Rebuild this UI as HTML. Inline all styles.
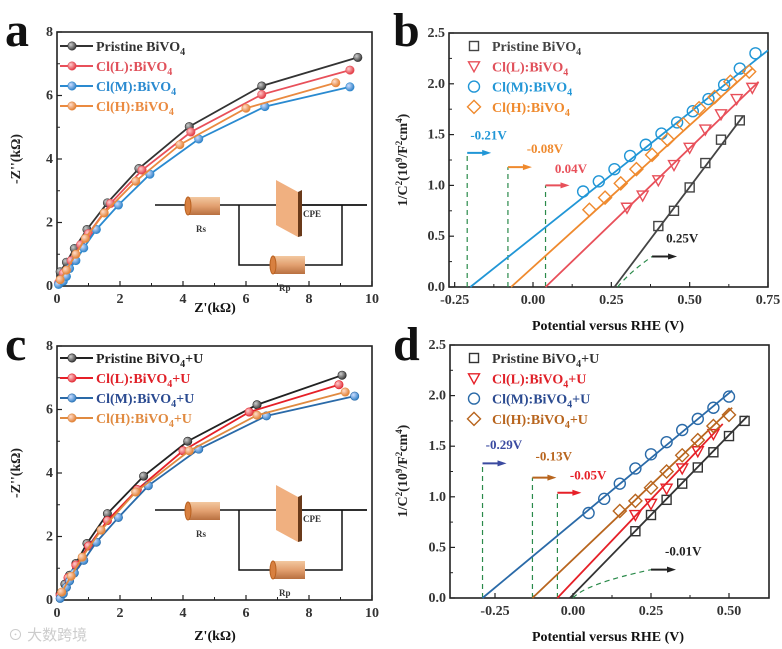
<!DOCTYPE html>
<html><head><meta charset="utf-8"><style>
body{margin:0;background:#fff}
svg{display:block;font-family:"Liberation Serif",serif;font-weight:bold}
</style></head><body>
<svg id="fig" width="782" height="649" viewBox="0 0 782 649">
<defs>
<radialGradient id="gk" cx="35%" cy="35%" r="70%"><stop offset="0" stop-color="#ccc"/><stop offset="1" stop-color="#333"/></radialGradient>
<radialGradient id="gr" cx="35%" cy="35%" r="70%"><stop offset="0" stop-color="#fcc"/><stop offset="1" stop-color="#e0303a"/></radialGradient>
<radialGradient id="gb" cx="35%" cy="35%" r="70%"><stop offset="0" stop-color="#cdf"/><stop offset="1" stop-color="#2a7cc4"/></radialGradient>
<radialGradient id="go" cx="35%" cy="35%" r="70%"><stop offset="0" stop-color="#fdc"/><stop offset="1" stop-color="#e07a2a"/></radialGradient>
<linearGradient id="cyl" x1="0" y1="0" x2="0" y2="1"><stop offset="0" stop-color="#f3c8a0"/><stop offset="0.5" stop-color="#e2a070"/><stop offset="1" stop-color="#b87040"/></linearGradient>
</defs>
</svg>
<script>
// ---- Panel a data (Nyquist) ----
const aPristX=[0.1,0.3,0.55,0.95,1.6,2.6,4.2,6.5,9.55];
const aPristY=[0.45,0.75,1.18,1.78,2.62,3.7,5.02,6.3,7.2];
const aLX=[0.05,0.2,0.45,0.75,1.0,1.7,2.7,4.25,6.5,9.3];
const aLY=[0.1,0.4,0.8,1.3,1.65,2.6,3.65,4.85,6.03,6.8];
const aMX=[0.05,0.2,0.3,0.4,0.6,0.85,1.25,1.95,2.95,4.5,6.6,9.3];
const aMY=[0.05,0.15,0.3,0.55,0.8,1.2,1.78,2.55,3.52,4.63,5.65,6.27];
const aHX=[0.1,0.3,0.6,0.9,1.5,2.5,3.9,6.0,8.85];
const aHY=[0.2,0.5,1.0,1.5,2.3,3.3,4.45,5.6,6.4];
// ---- Panel c data ----
const cPristX=[0.1,0.25,0.4,0.6,0.95,1.6,2.75,4.15,6.35,9.05];
const cPristY=[0.2,0.5,0.78,1.15,1.78,2.72,3.9,5.0,6.15,7.08];
const cLX=[0.1,0.35,0.6,1.0,1.6,2.55,4.0,6.1,8.95];
const cLY=[0.15,0.7,1.1,1.7,2.5,3.48,4.7,5.92,6.78];
const cMX=[0.1,0.2,0.3,0.4,0.55,0.85,1.25,1.95,2.9,4.5,6.65,9.45];
const cMY=[0.05,0.2,0.4,0.6,0.85,1.25,1.82,2.6,3.6,4.75,5.8,6.42];
const cHX=[0.15,0.45,0.8,1.4,2.5,4.2,6.35,9.15];
const cHY=[0.25,0.75,1.35,2.2,3.4,4.7,5.82,6.55];
const nyqXTicks=[0,2,4,6,8,10];
const nyqYTicks=[0,2,4,6,8];
// ---- Panel b data (Mott-Schottky) ----
const bPristX=[0.40,0.45,0.50,0.55,0.60,0.66];
const bPristY=[0.60,0.75,0.98,1.22,1.45,1.64];
const bLX=[0.30,0.35,0.40,0.45,0.50,0.55,0.60,0.65,0.70];
const bLY=[0.78,0.90,1.05,1.20,1.37,1.55,1.70,1.85,1.96];
const bMX=[0.16,0.21,0.26,0.31,0.36,0.41,0.46,0.51,0.56,0.61,0.66,0.71];
const bMY=[0.94,1.04,1.16,1.29,1.40,1.51,1.62,1.73,1.85,1.99,2.15,2.30];
const bHX=[0.18,0.23,0.28,0.33,0.38,0.43,0.48,0.53,0.58,0.63,0.69];
const bHY=[0.76,0.88,1.02,1.16,1.30,1.45,1.60,1.76,1.87,2.02,2.12];
const bFitStart=[0.26,0.04,-0.20,-0.07];
const bFitEndX=[0.67,0.72,0.75,0.70];
const bFitEndY=[1.68,2.02,2.33,2.15];
const bXTicks=[-0.25,0,0.25,0.5,0.75];
const bXLabels=["-0.25","0.00","0.25","0.50","0.75"];
const msYTicks=[0,0.5,1,1.5,2,2.5];
const msYLabels=["0.0","0.5","1.0","1.5","2.0","2.5"];
// ---- Panel d data ----
const dPristX=[0.20,0.25,0.30,0.35,0.40,0.45,0.50,0.55];
const dPristY=[0.66,0.82,0.97,1.13,1.29,1.44,1.60,1.75];
const dLX=[0.20,0.25,0.30,0.35,0.40,0.45];
const dLY=[0.82,0.93,1.08,1.28,1.45,1.62];
const dMX=[0.05,0.10,0.15,0.20,0.25,0.30,0.35,0.40,0.45,0.50];
const dMY=[0.84,0.98,1.13,1.28,1.42,1.54,1.66,1.77,1.88,1.99];
const dHX=[0.15,0.20,0.25,0.30,0.35,0.40,0.45,0.50];
const dHY=[0.86,0.96,1.09,1.25,1.41,1.56,1.70,1.81];
const dFitStart=[-0.01,-0.05,-0.29,-0.13];
const dFitEndX=[0.56,0.48,0.51,0.51];
const dFitEndY=[1.80,1.72,2.05,1.88];
const dXTicks=[-0.25,0,0.25,0.5];
const dXLabels=["-0.25","0.00","0.25","0.50"];

const NS="http://www.w3.org/2000/svg";
const svg=document.getElementById('fig');
function mk(tag,attrs,parent,text){const e=document.createElementNS(NS,tag);for(const k in attrs)e.setAttribute(k,attrs[k]);if(text!==undefined)e.textContent=text;(parent||svg).appendChild(e);return e;}
function grp(name){const g=mk('g',{});return g;}

function axes(g,P,xt,xl,yt,yl,xminor,yminor){
  mk('rect',{x:P.l,y:P.t,width:P.r-P.l,height:P.b-P.t,fill:'none',stroke:'#222','stroke-width':1.6},g);
  xt.forEach((v,i)=>{const x=P.sx(v);mk('line',{x1:x,x2:x,y1:P.b,y2:P.b-5,stroke:'#222','stroke-width':1.2},g);
    const t=mk('text',{x:x,y:P.b+17,'text-anchor':'middle','font-size':14,fill:'#333'},g,xl[i]);});
  xminor.forEach(v=>{const x=P.sx(v);mk('line',{x1:x,x2:x,y1:P.b,y2:P.b-3,stroke:'#222'},g);});
  yt.forEach((v,i)=>{const y=P.sy(v);mk('line',{x1:P.l,x2:P.l+5,y1:y,y2:y,stroke:'#222','stroke-width':1.2},g);
    const t=mk('text',{x:P.l-4,y:y+4,'text-anchor':'end','font-size':14,fill:'#333'},g,yl[i]);});
  yminor.forEach(v=>{const y=P.sy(v);mk('line',{x1:P.l,x2:P.l+3,y1:y,y2:y,stroke:'#222'},g);});
}
function ball(g,x,y,grad,stroke){mk('circle',{cx:x,cy:y,r:4.2,fill:'url(#'+grad+')',stroke:stroke,'stroke-width':0.6},g);}
function marker(g,type,x,y,c){
  const s=5.5;
  if(type==='sq')mk('rect',{x:x-s+1,y:y-s+1,width:2*s-2,height:2*s-2,fill:'none',stroke:c,'stroke-width':1.4},g);
  else if(type==='tri')mk('polygon',{points:`${x-s},${y-s+1} ${x+s},${y-s+1} ${x},${y+s}`,fill:'none',stroke:c,'stroke-width':1.4},g);
  else if(type==='cir')mk('circle',{cx:x,cy:y,r:s,fill:'none',stroke:c,'stroke-width':1.4},g);
  else mk('polygon',{points:`${x},${y-s-1} ${x+s+1},${y} ${x},${y+s+1} ${x-s-1},${y}`,fill:'none',stroke:c,'stroke-width':1.4},g);
}
function label(g,x,y,txt,size,opts,name){const t=mk('text',Object.assign({x:x,y:y,'font-size':size,fill:'#333'},opts||{}),g);t.innerHTML=txt;return t;}
function circuit(g,dy){
  mk('line',{x1:155,x2:367,y1:205+dy,y2:205+dy,stroke:'#111','stroke-width':1.5},g);
  mk('polyline',{points:`239,${205+dy} 239,${265+dy} 342,${265+dy} 342,${205+dy}`,fill:'none',stroke:'#111','stroke-width':1.5},g);
  [[188,197],[273,256]].forEach(([x,y])=>{mk('rect',{x:x,y:y+dy,width:32,height:18,fill:'url(#cyl)'},g);mk('ellipse',{cx:x,cy:y+9+dy,rx:3,ry:9,fill:'#d88040',stroke:'#b86020'},g);});
  mk('polygon',{points:`276,${180+dy} 298,${192+dy} 298,${237+dy} 276,${225+dy}`,fill:'#f0b080'},g);
  mk('polygon',{points:`298,${192+dy} 302,${190+dy} 302,${236+dy} 298,${237+dy}`,fill:'#6a3a1a'},g);
  mk('line',{x1:302,x2:367,y1:205+dy,y2:205+dy,stroke:'#111','stroke-width':1.5},g);
  label(g,196,232+dy,'Rs',9,{},'rs-label');
  label(g,303,217+dy,'CPE',9,{},'cpe-label');
  label(g,279,291+dy,'Rp',9,{},'rp-label');
}
function nyquist(P,sets,legend,name,dyc){
  const g=grp(name);
  axes(g,P,nyqXTicks,nyqXTicks.map(String),nyqYTicks,nyqYTicks.map(String),[1,3,5,7,9],[1,3,5,7]);
  circuit(g,dyc);
  sets.forEach(s=>{
    const sg=mk('g',{},g);
    const pts=s.x.map((v,i)=>P.sx(v)+','+P.sy(s.y[i])).join(' ');
    mk('polyline',{points:pts,fill:'none',stroke:s.c,'stroke-width':1.8},sg);
    s.x.forEach((v,i)=>ball(sg,P.sx(v),P.sy(s.y[i]),s.grad,s.c));
  });
  legend.forEach((l,i)=>{const y=legend.y0+i*20;
    const lg=mk('g',{},g);
    mk('line',{x1:60,x2:93,y1:y,y2:y,stroke:sets[i].c,'stroke-width':2},lg);ball(lg,72,y,sets[i].grad,sets[i].c);
    label(lg,96,y+5,l,14,{fill:sets[i].tc},'legend-text');});
}
function ms(P,sets,fs,fex,fey,xt,xl,xminor,ann,legend,name){
  const g=grp(name);
  axes(g,P,xt,xl,msYTicks,msYLabels,xminor,[0.25,0.75,1.25,1.75,2.25]);
  ann.v.forEach(a=>{
    mk('line',{x1:P.sx(a.x),x2:P.sx(a.x),y1:P.b,y2:P.sy(a.h),stroke:'#2a8a4a','stroke-width':1.2,'stroke-dasharray':'5,4'},g);
    const ax=P.sx(a.x),ay=P.sy(a.h);
    mk('line',{x1:ax,x2:ax+17,y1:ay,y2:ay,stroke:a.c,'stroke-width':2},g);
    mk('polygon',{points:`${ax+15},${ay-3} ${ax+24},${ay} ${ax+15},${ay+3}`,fill:a.c},g);
    label(g,P.sx(a.lx),P.sy(a.ly),a.t,13,{fill:a.c},'flatband-label');
  });
  const k=ann.k;
  mk('path',{d:`M${P.sx(k.x0)},${P.b} Q${P.sx(k.x0+0.04)},${P.sy(k.y*0.5)} ${P.sx(k.x1)},${P.sy(k.y)}`,fill:'none',stroke:'#2a8a4a','stroke-width':1.2,'stroke-dasharray':'5,4'},g);
  const kx=P.sx(k.x1),ky=P.sy(k.y);
  mk('line',{x1:kx,x2:kx+18,y1:ky,y2:ky,stroke:'#222','stroke-width':2},g);
  mk('polygon',{points:`${kx+16},${ky-3} ${kx+25},${ky} ${kx+16},${ky+3}`,fill:'#222'},g);
  label(g,kx+14,ky-14,k.t,13,{fill:'#222'},'flatband-label');
  sets.forEach((s,j)=>{
    const sg=mk('g',{},g);
    mk('line',{x1:P.sx(fs[j]),y1:P.b,x2:P.sx(fex[j]),y2:P.sy(fey[j]),stroke:s.c,'stroke-width':1.8},sg);
    s.x.forEach((v,i)=>marker(sg,s.m,P.sx(v),P.sy(s.y[i]),s.c));
  });
  legend.forEach((l,i)=>{const y=legend.y0+i*20.3;
    const lg=mk('g',{},g);
    marker(lg,sets[i].m,474,y,sets[i].c);
    label(lg,492,y+5,l,14,{fill:sets[i].tc},'legend-text');});
}
function lin(d0,d1,p0,p1){return v=>p0+(v-d0)/(d1-d0)*(p1-p0);}

const Pa={l:57,r:372,t:32,b:286};Pa.sx=lin(0,10,57,372);Pa.sy=lin(0,8,286,32);
const Pc={l:57,r:372,t:346,b:600};Pc.sx=lin(0,10,57,372);Pc.sy=lin(0,8,600,346);
const Pb={l:449,r:768,t:33,b:287};Pb.sx=lin(0,0.75,533,768);Pb.sy=lin(0,2.5,287,33);
const Pd={l:450,r:769,t:345,b:598};Pd.sx=lin(0,0.5,573,729);Pd.sy=lin(0,2.5,598,345);

const S='<tspan dy="4" font-size="10">4</tspan>';
const SU='<tspan dy="4" font-size="10">4</tspan><tspan dy="-4">+U</tspan>';
const names=['Pristine BiVO','Cl(L):BiVO','Cl(M):BiVO','Cl(H):BiVO'];
const legA=names.map(n=>n+S);legA.y0=46;
nyquist(Pa,[
 {name:'series-pristine',x:aPristX,y:aPristY,c:'#333',grad:'gk',tc:'#333'},
 {name:'series-cl-l',x:aLX,y:aLY,c:'#e8505a',grad:'gr',tc:'#e0505a'},
 {name:'series-cl-m',x:aMX,y:aMY,c:'#2a8ad0',grad:'gb',tc:'#2a8ad0'},
 {name:'series-cl-h',x:aHX,y:aHY,c:'#ea8a40',grad:'go',tc:'#ea8a40'}],legA,'panel-a',0);
const legC=names.map(n=>n+SU);legC.y0=358;
nyquist(Pc,[
 {name:'series-pristine-u',x:cPristX,y:cPristY,c:'#222',grad:'gk',tc:'#222'},
 {name:'series-cl-l-u',x:cLX,y:cLY,c:'#e62028',grad:'gr',tc:'#e02028'},
 {name:'series-cl-m-u',x:cMX,y:cMY,c:'#2a6aa8',grad:'gb',tc:'#2a4a90'},
 {name:'series-cl-h-u',x:cHX,y:cHY,c:'#e08a40',grad:'go',tc:'#e08a40'}],legC,'panel-c',305);

const legB=names.map(n=>n+S);legB.y0=46;
ms(Pb,[
 {name:'series-pristine',x:bPristX,y:bPristY,c:'#444',m:'sq',tc:'#444'},
 {name:'series-cl-l',x:bLX,y:bLY,c:'#e8505a',m:'tri',tc:'#e0505a'},
 {name:'series-cl-m',x:bMX,y:bMY,c:'#2196d6',m:'cir',tc:'#2196d6'},
 {name:'series-cl-h',x:bHX,y:bHY,c:'#ef8a2e',m:'dia',tc:'#ef8a2e'}],
 bFitStart,bFitEndX,bFitEndY,bXTicks,bXLabels,[-0.125,0.125,0.375,0.625],
 {v:[{x:-0.21,h:1.32,c:'#2196d6',t:'-0.21V',lx:-0.2,ly:1.45},
     {x:-0.08,h:1.18,c:'#ef8a2e',t:'-0.08V',lx:-0.02,ly:1.32},
     {x:0.04,h:1.0,c:'#e8505a',t:'0.04V',lx:0.07,ly:1.12}],
  k:{x0:0.27,x1:0.38,y:0.3,t:'0.25V'}},legB,'panel-b');
const legD=names.map(n=>n+SU);legD.y0=358;
ms(Pd,[
 {name:'series-pristine-u',x:dPristX,y:dPristY,c:'#333',m:'sq',tc:'#333'},
 {name:'series-cl-l-u',x:dLX,y:dLY,c:'#e62028',m:'tri',tc:'#e02028'},
 {name:'series-cl-m-u',x:dMX,y:dMY,c:'#2a6aa8',m:'cir',tc:'#2a4a90'},
 {name:'series-cl-h-u',x:dHX,y:dHY,c:'#b8651e',m:'dia',tc:'#b8651e'}],
 dFitStart,dFitEndX,dFitEndY,dXTicks,dXLabels,[-0.125,0.125,0.375],
 {v:[{x:-0.29,h:1.33,c:'#3a4aa0',t:'-0.29V',lx:-0.28,ly:1.47},
     {x:-0.13,h:1.19,c:'#b8651e',t:'-0.13V',lx:-0.12,ly:1.36},
     {x:-0.05,h:1.04,c:'#e62028',t:'-0.05V',lx:-0.01,ly:1.17}],
  k:{x0:0.0,x1:0.25,y:0.28,t:'-0.01V'}},legD,'panel-d');

const T=[
 ['panel-letter-a',5,46,'a',48,{}],['panel-letter-b',393,46,'b',48,{}],
 ['panel-letter-c',5,360,'c',48,{}],['panel-letter-d',393,360,'d',48,{}],
 ['x-axis-title-a',215,312,"Z'(kΩ)",14,{'text-anchor':'middle'}],
 ['x-axis-title-c',215,640,"Z'(kΩ)",14,{'text-anchor':'middle'}],
 ['x-axis-title-b',608,330,'Potential versus RHE (V)',14,{'text-anchor':'middle'}],
 ['x-axis-title-d',608,641,'Potential versus RHE (V)',14,{'text-anchor':'middle'}]];
T.forEach(t=>{label(svg,t[1],t[2],t[3],t[4],Object.assign({fill:'#111'},t[5]),t[0]);});
[['y-axis-title-a',20,159,"-Z''(kΩ)"],['y-axis-title-c',20,473,"-Z''(kΩ)"]].forEach(t=>{
 label(svg,t[1],t[2],t[3],14,{'text-anchor':'middle',transform:`rotate(-90 ${t[1]} ${t[2]})`,fill:'#222'},t[0]);});
const YB='1/C<tspan dy="-5" font-size="9">2</tspan><tspan dy="5">(10</tspan><tspan dy="-5" font-size="9">9</tspan><tspan dy="5">/F</tspan><tspan dy="-5" font-size="9">2</tspan><tspan dy="5">cm</tspan><tspan dy="-5" font-size="9">4</tspan><tspan dy="5">)</tspan>';
[['y-axis-title-b',407,160],['y-axis-title-d',407,471]].forEach(t=>{
 label(svg,t[1],t[2],YB,14,{'text-anchor':'middle',transform:`rotate(-90 ${t[1]} ${t[2]})`,fill:'#222'},t[0]);});
label(svg,8,640,'⊙ 大数跨境',15,{fill:'#ccc','font-family':'"Liberation Sans","Noto Sans CJK SC",sans-serif','font-weight':'normal'},'watermark');
</script>
</body></html>
